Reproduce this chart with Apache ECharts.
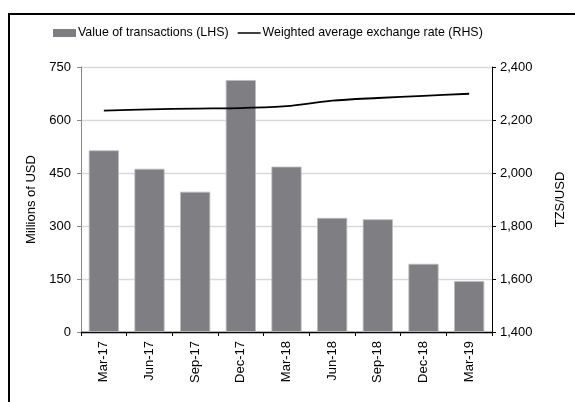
<!DOCTYPE html>
<html>
<head>
<meta charset="utf-8">
<script src="https://cdn.jsdelivr.net/npm/echarts@6/dist/echarts.min.js"></script>
<style>
  html, body { margin: 0; padding: 0; background: #fff; }
  #main { width: 575px; height: 402px; }
</style>
</head>
<body>
<div id="main"></div>
<script>
// data
var quarters = ['Mar-17', 'Jun-17', 'Sep-17', 'Dec-17', 'Mar-18', 'Jun-18', 'Sep-18', 'Dec-18', 'Mar-19'];
var transValue = [514, 462, 397, 713, 468, 323, 319, 193, 144];
var exRate = [2235, 2240, 2243, 2245, 2252, 2273, 2283, 2291, 2299];

var font = 'Liberation Sans, Arial, sans-serif';

var myChart = echarts.init(document.getElementById('main'));

var option = {
  animation: false,
  textStyle: { fontFamily: font },
  graphic: [{
    type: 'rect',
    shape: { x: 9, y: 14, width: 600, height: 420 },
    style: { fill: 'none', stroke: '#000', lineWidth: 2 },
    silent: true
  }],
  legend: {
    left: 48,
    top: 22,
    itemGap: 9,
    itemWidth: 23,
    itemHeight: 8,
    itemStyle: { borderWidth: 0 },
    textStyle: { fontFamily: font, fontSize: 12.4, color: '#000', padding: [0, 0, 0, -3] },
    data: [
      { name: 'Value of transactions (LHS)', icon: 'rect' },
      // plain line, no dot
      { name: 'Weighted average exchange rate (RHS)', icon: 'path://M0,0L0,0M0,8L0,8M0,3.25H23V4.75H0Z' }
    ]
  },
  grid: {
    left: 81,
    right: 79,
    top: 67,
    bottom: 70
  },
  xAxis: {
    type: 'category',
    data: quarters,
    axisLine: { lineStyle: { color: '#000', width: 1.3 } },
    axisTick: { show: true, length: 4, lineStyle: { color: '#000' } },
    axisLabel: {
      rotate: 90,
      color: '#000',
      fontSize: 13,
      fontFamily: font,
      margin: 9
    }
  },
  yAxis: [{
    type: 'value',
    min: 0,
    max: 750,
    interval: 150,
    name: 'Millions of USD',
    nameLocation: 'middle',
    nameGap: 41,
    nameTextStyle: { color: '#000', fontSize: 13, fontFamily: font },
    axisLine: { show: true, lineStyle: { color: '#888' } },
    axisTick: { show: true, length: 4, lineStyle: { color: '#888' } },
    axisLabel: { color: '#000', fontSize: 13, fontFamily: font, margin: 10 },
    splitLine: { show: true, lineStyle: { color: '#d9d9d9', width: 1.3 } }
  }, {
    type: 'value',
    min: 1400,
    max: 2400,
    interval: 200,
    name: 'TZS/USD',
    nameLocation: 'middle',
    nameGap: 62,
    nameRotate: 90,
    nameTextStyle: { color: '#000', fontSize: 13, fontFamily: font },
    axisLine: { show: true, lineStyle: { color: '#000' } },
    axisTick: { show: true, length: 4, lineStyle: { color: '#000' } },
    axisLabel: {
      color: '#000',
      fontSize: 13,
      fontFamily: font,
      margin: 8,
      formatter: function (v) { return v.toLocaleString('en-US'); }
    },
    splitLine: { show: false }
  }],
  series: [{
    name: 'Value of transactions (LHS)',
    type: 'bar',
    data: transValue,
    barCategoryGap: '34%',
    itemStyle: { color: '#7f7f83', borderColor: '#bdbdbf', borderWidth: 0.8 }
  }, {
    name: 'Weighted average exchange rate (RHS)',
    type: 'line',
    yAxisIndex: 1,
    data: exRate,
    smooth: 0.3,
    symbol: 'none',
    lineStyle: { color: '#000', width: 1.8 },
    itemStyle: { color: '#000' }
  }]
};

myChart.setOption(option);
window.onresize = myChart.resize;
</script>
</body>
</html>
